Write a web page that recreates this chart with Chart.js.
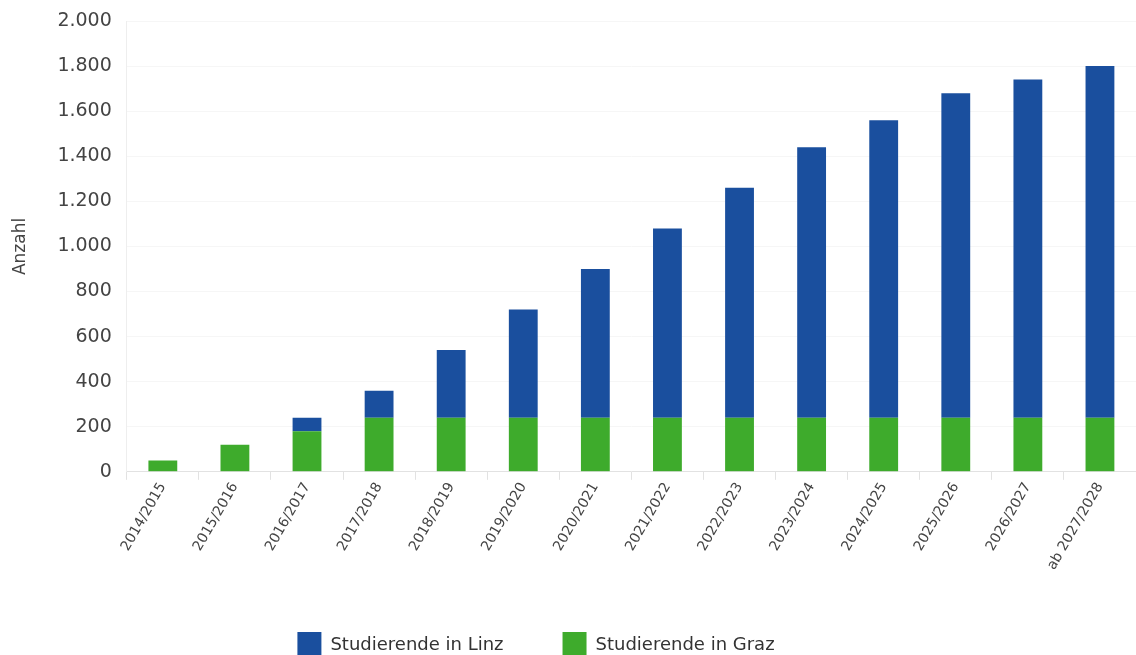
<!DOCTYPE html>
<html lang="de">
<head>
<meta charset="utf-8">
<title>Studierende Linz / Graz</title>
<script src="https://cdn.jsdelivr.net/npm/chart.js@4.4.1/dist/chart.umd.min.js"></script>
<style>
    html, body { margin: 0; padding: 0; background: #fff; }
    #wrap { width: 1136px; height: 655px; position: relative; }
</style>
</head>
<body>
<div id="wrap"><canvas id="chart"></canvas></div>
<script>
// Daten
const jahre = ["2014/2015", "2015/2016", "2016/2017", "2017/2018", "2018/2019", "2019/2020", "2020/2021",
    "2021/2022", "2022/2023", "2023/2024", "2024/2025", "2025/2026", "2026/2027", "ab 2027/2028"];
const graz = [50, 120, 180, 240, 240, 240, 240, 240, 240, 240, 240, 240, 240, 240];
const linz = [0, 0, 60, 120, 300, 480, 660, 840, 1020, 1200, 1320, 1440, 1500, 1560];
const yTicks = [0, 200, 400, 600, 800, 1000, 1200, 1400, 1600, 1800, 2000];

const blau = "#1a4f9e";
const gruen = "#3eab2c";
const schrift = "'DejaVu Sans', sans-serif";

// Legende etwas nach links schieben (wie im Original)
const legendShift = {
    id: 'legendShift',
    afterLayout(chart) {
        chart.legend.left -= 35;
        chart.legend.right -= 35;
    }
};

new Chart(document.getElementById("chart"), {
    type: "bar",
    data: {
        labels: jahre,
        datasets: [
            { label: "Studierende in Graz", data: graz, backgroundColor: gruen, barPercentage: 0.4, categoryPercentage: 1 },
            { label: "Studierende in Linz", data: linz, backgroundColor: blau, barPercentage: 0.4, categoryPercentage: 1 }
        ]
    },
    options: {
        responsive: true,
        maintainAspectRatio: false,
        animation: false,
        locale: "de-DE",
        // unten negativ: Legendenkästchen werden am Rand abgeschnitten wie im Original
        layout: { padding: { top: 21, left: 6, right: 0, bottom: -13 } },
        plugins: {
            legend: {
                position: "bottom",
                reverse: true,
                labels: {
                    boxWidth: 24,
                    boxHeight: 26,
                    padding: 59,
                    color: "#333",
                    font: { family: schrift, size: 18 }
                }
            },
            tooltip: { enabled: false }
        },
        scales: {
            x: {
                stacked: true,
                grid: { display: true, drawOnChartArea: false, tickLength: 8, color: "#e2e2e2" },
                border: { color: "#e2e2e2" },
                ticks: {
                    maxRotation: 60,
                    minRotation: 60,
                    color: "#444",
                    padding: 0,
                    font: { family: schrift, size: 14 }
                }
            },
            y: {
                stacked: true,
                min: 0,
                max: 2000,
                afterBuildTicks(axis) {
                    axis.ticks = yTicks.map(v => ({ value: v }));
                },
                grid: { color: "#f6f6f6", drawTicks: false },
                border: { color: "#eeeeee" },
                ticks: {
                    color: "#444",
                    padding: 15,
                    // kleine lineHeight, damit oben kein zusätzlicher Rand entsteht
                    font: { family: schrift, size: 19, lineHeight: 0.5 }
                },
                title: {
                    display: true,
                    text: "Anzahl",
                    color: "#444",
                    padding: { bottom: 12 },
                    font: { family: schrift, size: 17 }
                }
            }
        }
    },
    plugins: [legendShift]
});
</script>
</body>
</html>
